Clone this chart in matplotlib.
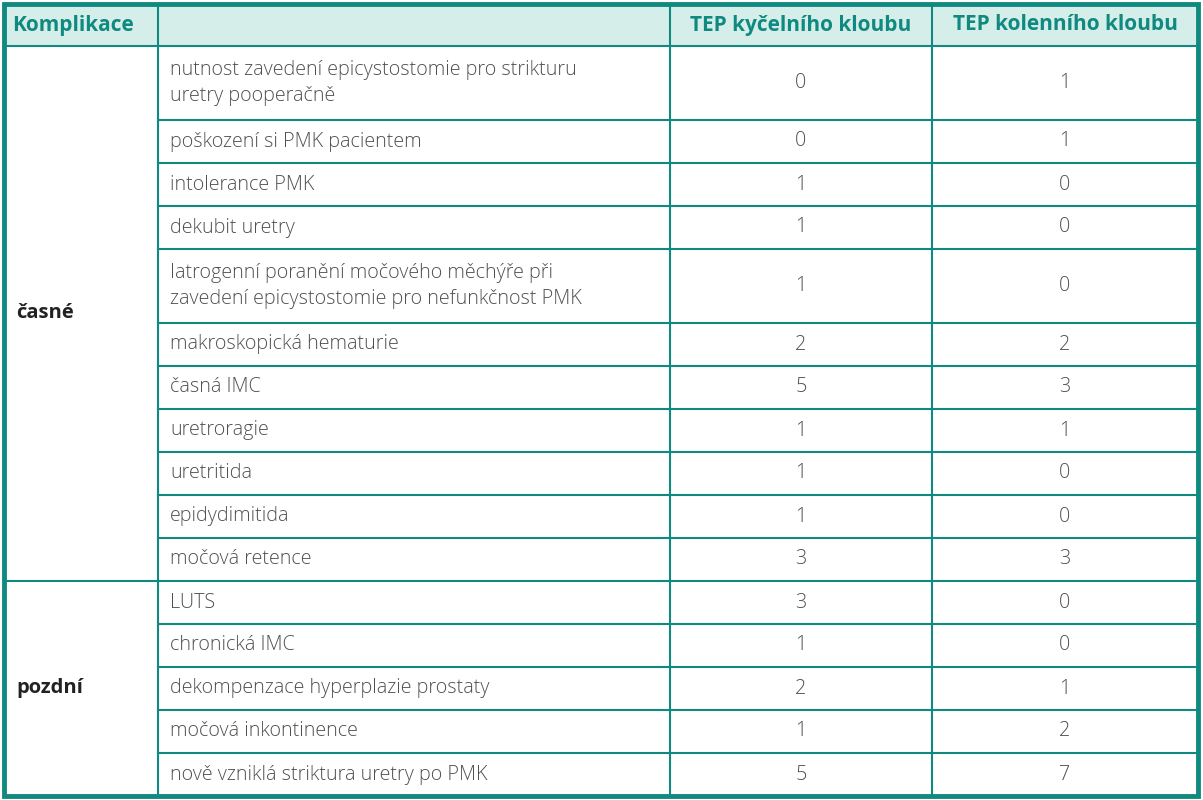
import matplotlib.pyplot as plt

# table content
headers = ["Komplikace", "", "TEP kyčelního kloubu", "TEP kolenního kloubu"]
groups = ["časné", "pozdní"]
group_sizes = [11, 5]
items = [
    "nutnost zavedení epicystostomie pro strikturu\nuretry pooperačně",
    "poškození si PMK pacientem",
    "intolerance PMK",
    "dekubit uretry",
    "Iatrogenní poranění močového měchýře při\nzavedení epicystostomie pro nefunkčnost PMK",
    "makroskopická hematurie",
    "časná IMC",
    "uretroragie",
    "uretritida",
    "epidydimitida",
    "močová retence",
    "LUTS",
    "chronická IMC",
    "dekompenzace hyperplazie prostaty",
    "močová inkontinence",
    "nově vzniklá striktura uretry po PMK",
]
hip = [0, 0, 1, 1, 1, 2, 5, 1, 1, 1, 3, 3, 1, 2, 1, 5]
knee = [1, 1, 0, 0, 0, 2, 3, 1, 0, 0, 3, 0, 0, 1, 2, 7]

teal = "#108a80"
head_bg = "#d6eeea"
txt = "#505050"
plt.rcParams['font.family'] = ['Open Sans', 'DejaVu Sans']

fig = plt.figure(figsize=(12.03, 8.0), dpi=100)
ax = fig.add_axes([0, 0, 1, 1])
ax.set_xlim(0, 1203)
ax.set_ylim(800, 0)
ax.axis("off")

L, R, T, B = 4, 1198, 4, 796
cols = [L, 158, 670, 932, R]
head_h = 42
one, two = 43, 74
heights = [two if "\n" in s else one for s in items]
scale = (B - T - head_h) / sum(heights)
ys = [T + head_h]
for h in heights:
    ys.append(ys[-1] + h * scale)

# header background
ax.add_patch(plt.Rectangle((L, T), R - L, head_h, color=head_bg, lw=0))
for i, h in enumerate(headers):
    if i == 0:
        ax.text(cols[0] + 8, T + head_h / 2, h, color=teal, fontsize=15,
                fontweight="bold", va="center", ha="left")
    elif h:
        ax.text((cols[i] + cols[i + 1]) / 2, T + head_h / 2, h, color=teal,
                fontsize=15, fontweight="bold", va="center", ha="center")

# rows
for k, s in enumerate(items):
    yc = (ys[k] + ys[k + 1]) / 2
    ax.text(cols[1] + 12, yc, s, color=txt, fontsize=14.2, va="center",
            ha="left", linespacing=1.35, fontweight="light")
    ax.text((cols[2] + cols[3]) / 2, yc, str(hip[k]), color=txt,
            fontsize=14.2, va="center", ha="center", fontweight="light")
    ax.text((cols[3] + cols[4]) / 2, yc, str(knee[k]), color=txt,
            fontsize=14.2, va="center", ha="center", fontweight="light")

# groups
start = 0
for g, n in zip(groups, group_sizes):
    yc = (ys[start] + ys[start + n]) / 2
    ax.text(cols[0] + 12, yc, g, color="#222222", fontsize=14.5,
            fontweight="bold", va="center", ha="left")
    start += n

# grid lines
lw = 1.5
for k in range(1, len(ys) - 1):
    boundary = k == group_sizes[0]
    x0 = cols[0] if boundary else cols[1]
    ax.plot([x0, R], [ys[k], ys[k]], color=teal, lw=lw)
ax.plot([L, R], [ys[0], ys[0]], color=teal, lw=lw)
for x in cols[1:-1]:
    ax.plot([x, x], [T, B], color=teal, lw=lw)
ax.add_patch(plt.Rectangle((L, T), R - L, B - T, fill=False, ec=teal, lw=3.5))

fig.savefig("out.png", dpi=100)
